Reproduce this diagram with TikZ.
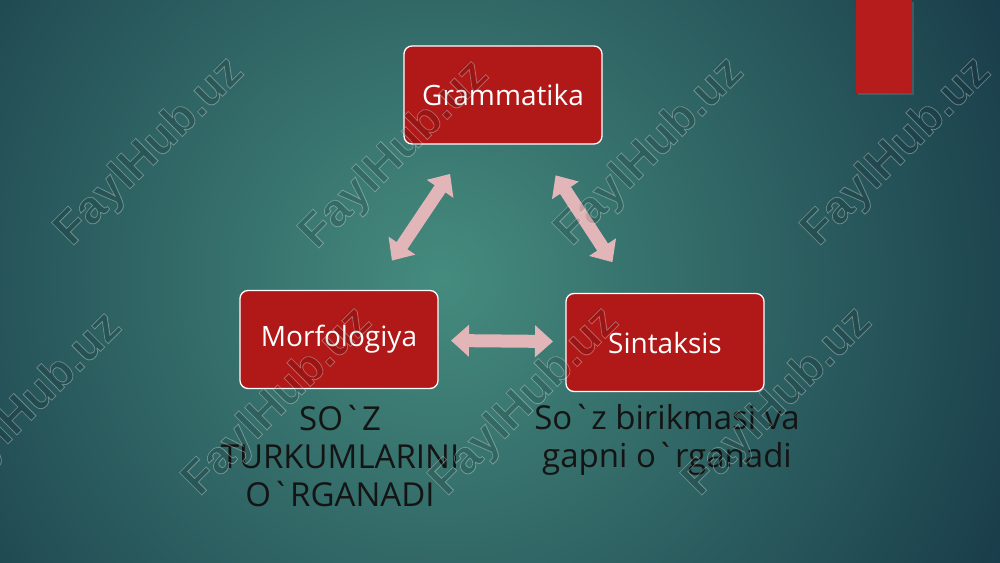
\documentclass[tikz,border=0pt]{standalone}
\usepackage{fontspec}
\setmainfont{Open Sans}
\newfontfamily\wmfont{Liberation Sans}
\usetikzlibrary{arrows.meta,shadows}
\definecolor{boxred}{HTML}{B11818}
\definecolor{arrowpink}{HTML}{E2B6B8}
\definecolor{bginner}{HTML}{458B7E}
\definecolor{bgouter}{HTML}{143444}
\definecolor{bandred}{HTML}{B71C1C}
\definecolor{notetext}{HTML}{141414}
\newcommand\sqk{\textasciigrave{}}
\newcommand\outlinetxt[1]{\special{pdf:literal direct 1 Tr 0.8 w}#1\special{pdf:literal direct 0 Tr}}
\begin{document}
\begin{tikzpicture}[x=1pt,y=-1pt,
  box/.style={draw=white, line width=1.3pt, fill=boxred, rounded corners=8pt,
    minimum width=198pt, minimum height=98pt, text=white,
    font=\fontsize{28}{32}\selectfont, inner sep=0pt},
  link/.style={line width=13pt, color=arrowpink,
    {Triangle[length=18pt,width=31pt]}-{Triangle[length=18pt,width=31pt]}},
  note/.style={text=notetext, font=\fontsize{33}{38}\selectfont, align=center, inner sep=0pt},
  wmbase/.style={rotate=45, font=\wmfont\bfseries\fontsize{46}{50}\selectfont, inner sep=0pt},
  wmfill/.style={wmbase, opacity=0.12, text=black},
  wm/.style={wmbase, opacity=0.35, text=white!85!gray}]
\useasboundingbox (0,0) rectangle (1000,562);
\clip (0,0) rectangle (1000,562);
\shade[inner color=bginner, outer color=bgouter] (440,280) circle (700);
% top-right band
\node[fill=bandred, minimum width=56pt, minimum height=93pt, anchor=north west,
  inner sep=0pt, drop shadow={opacity=0.35, shadow xshift=2pt, shadow yshift=-2pt}]
  (band) at (856,0) {};
% boxes
\node[box] (gram) at (503,95) {Grammatika};
\node[box] (morf) at (339,339.5) {Morfologiya};
\node[box] (sint) at (665,342.5) {Sintaksis};
% arrows
\draw[link, shorten <=95pt, shorten >=95pt] (gram.center) -- (morf.center);
\draw[link, shorten <=96pt, shorten >=96pt] (gram.center) -- (sint.center);
\draw[link, shorten <=112pt, shorten >=112pt] (morf.center) -- (sint.center);
% notes
\node[note] (morfnote) at (340,456) {SO\sqk Z\\TURKUMLARINI\\O\sqk RGANADI};
\node[note] (sintnote) at (667,440) {So\sqk z birikmasi va\\gapni o\sqk rganadi};
% watermarks
\foreach \p [count=\i] in {(150,152),(395,155),(650,152),(897,152),(28,407),(278,402),(525,402),(778,402)}{
  \node[wmfill] (wmf\i) at \p {FaylHub.uz};
  \node[wm] (wm\i) at \p {\outlinetxt{FaylHub.uz}};
}
\end{tikzpicture}
\end{document}
